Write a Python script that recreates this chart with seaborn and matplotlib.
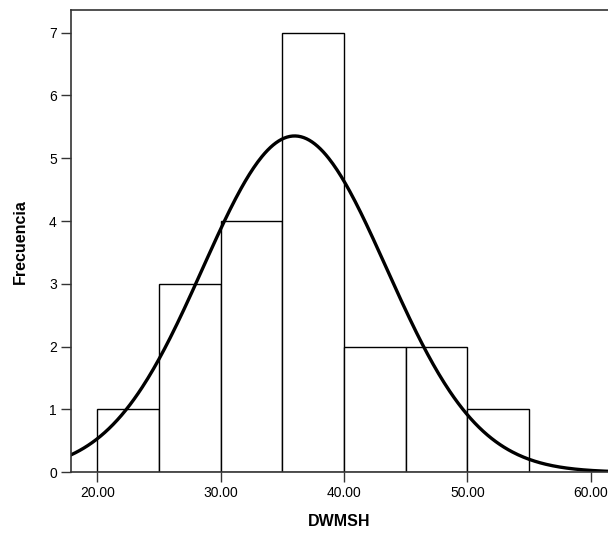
import numpy as np
import pandas as pd
import matplotlib
matplotlib.use("Agg")
import matplotlib.pyplot as plt
import seaborn as sns

# Data
bin_edges = [20, 25, 30, 35, 40, 45, 50, 55]
bin_counts = [1, 3, 4, 7, 2, 2, 1]
x_ticks = [20, 30, 40, 50, 60]
x_tick_labels = ["20.00", "30.00", "40.00", "50.00", "60.00"]
y_ticks = [0, 1, 2, 3, 4, 5, 6, 7]
# normal curve parameters (fitted curve shown in the chart)
curve_mean = 36.0
curve_sd = 7.45
n_total = sum(bin_counts)
bin_width = 5

sns.set_theme(style="white")
plt.rcParams['font.family'] = ['Liberation Sans', 'DejaVu Sans']
plt.rcParams['text.color'] = 'black'
plt.rcParams['axes.labelcolor'] = 'black'
plt.rcParams['xtick.color'] = 'black'
plt.rcParams['ytick.color'] = 'black'

fig = plt.figure(figsize=(6.08, 5.33), dpi=100)
ax = fig.add_axes([0.1163, 0.1139, 0.8837, 0.9812 - 0.1139])

mids = [(a + b) / 2 for a, b in zip(bin_edges[:-1], bin_edges[1:])]
df = pd.DataFrame({"x": mids, "w": bin_counts})
sns.histplot(data=df, x="x", weights="w", bins=bin_edges, ax=ax,
             color="white", edgecolor="black", linewidth=1.0, alpha=1.0)

xs = np.linspace(17.0, 62.0, 400)
ys = n_total * bin_width / (curve_sd * np.sqrt(2 * np.pi)) * np.exp(-0.5 * ((xs - curve_mean) / curve_sd) ** 2)
sns.lineplot(x=xs, y=ys, ax=ax, color="black", linewidth=2.4)

ax.set_xlim(17.85, 61.4)
ax.set_ylim(0, 7.36)
ax.set_xticks(x_ticks)
ax.set_xticklabels(x_tick_labels, fontsize=10, color="black")
ax.set_yticks(y_ticks)
ax.set_yticklabels([str(v) for v in y_ticks], fontsize=10, color="black")
ax.tick_params(axis="both", direction="out", length=7, width=1.0, color="#333333",
               labelcolor="black", left=True, bottom=True, pad=3)

for side in ["right"]:
    ax.spines[side].set_visible(False)
for side in ["left", "top", "bottom"]:
    ax.spines[side].set_color("#333333")
    ax.spines[side].set_linewidth(1.2)

ax.set_xlabel("DWMSH", fontsize=11.5, fontweight="bold", labelpad=10, color="black")
ax.set_ylabel("Frecuencia", fontsize=11.5, fontweight="bold", labelpad=15, color="black")
ax.grid(False)

fig.savefig("out.png", dpi=100)
